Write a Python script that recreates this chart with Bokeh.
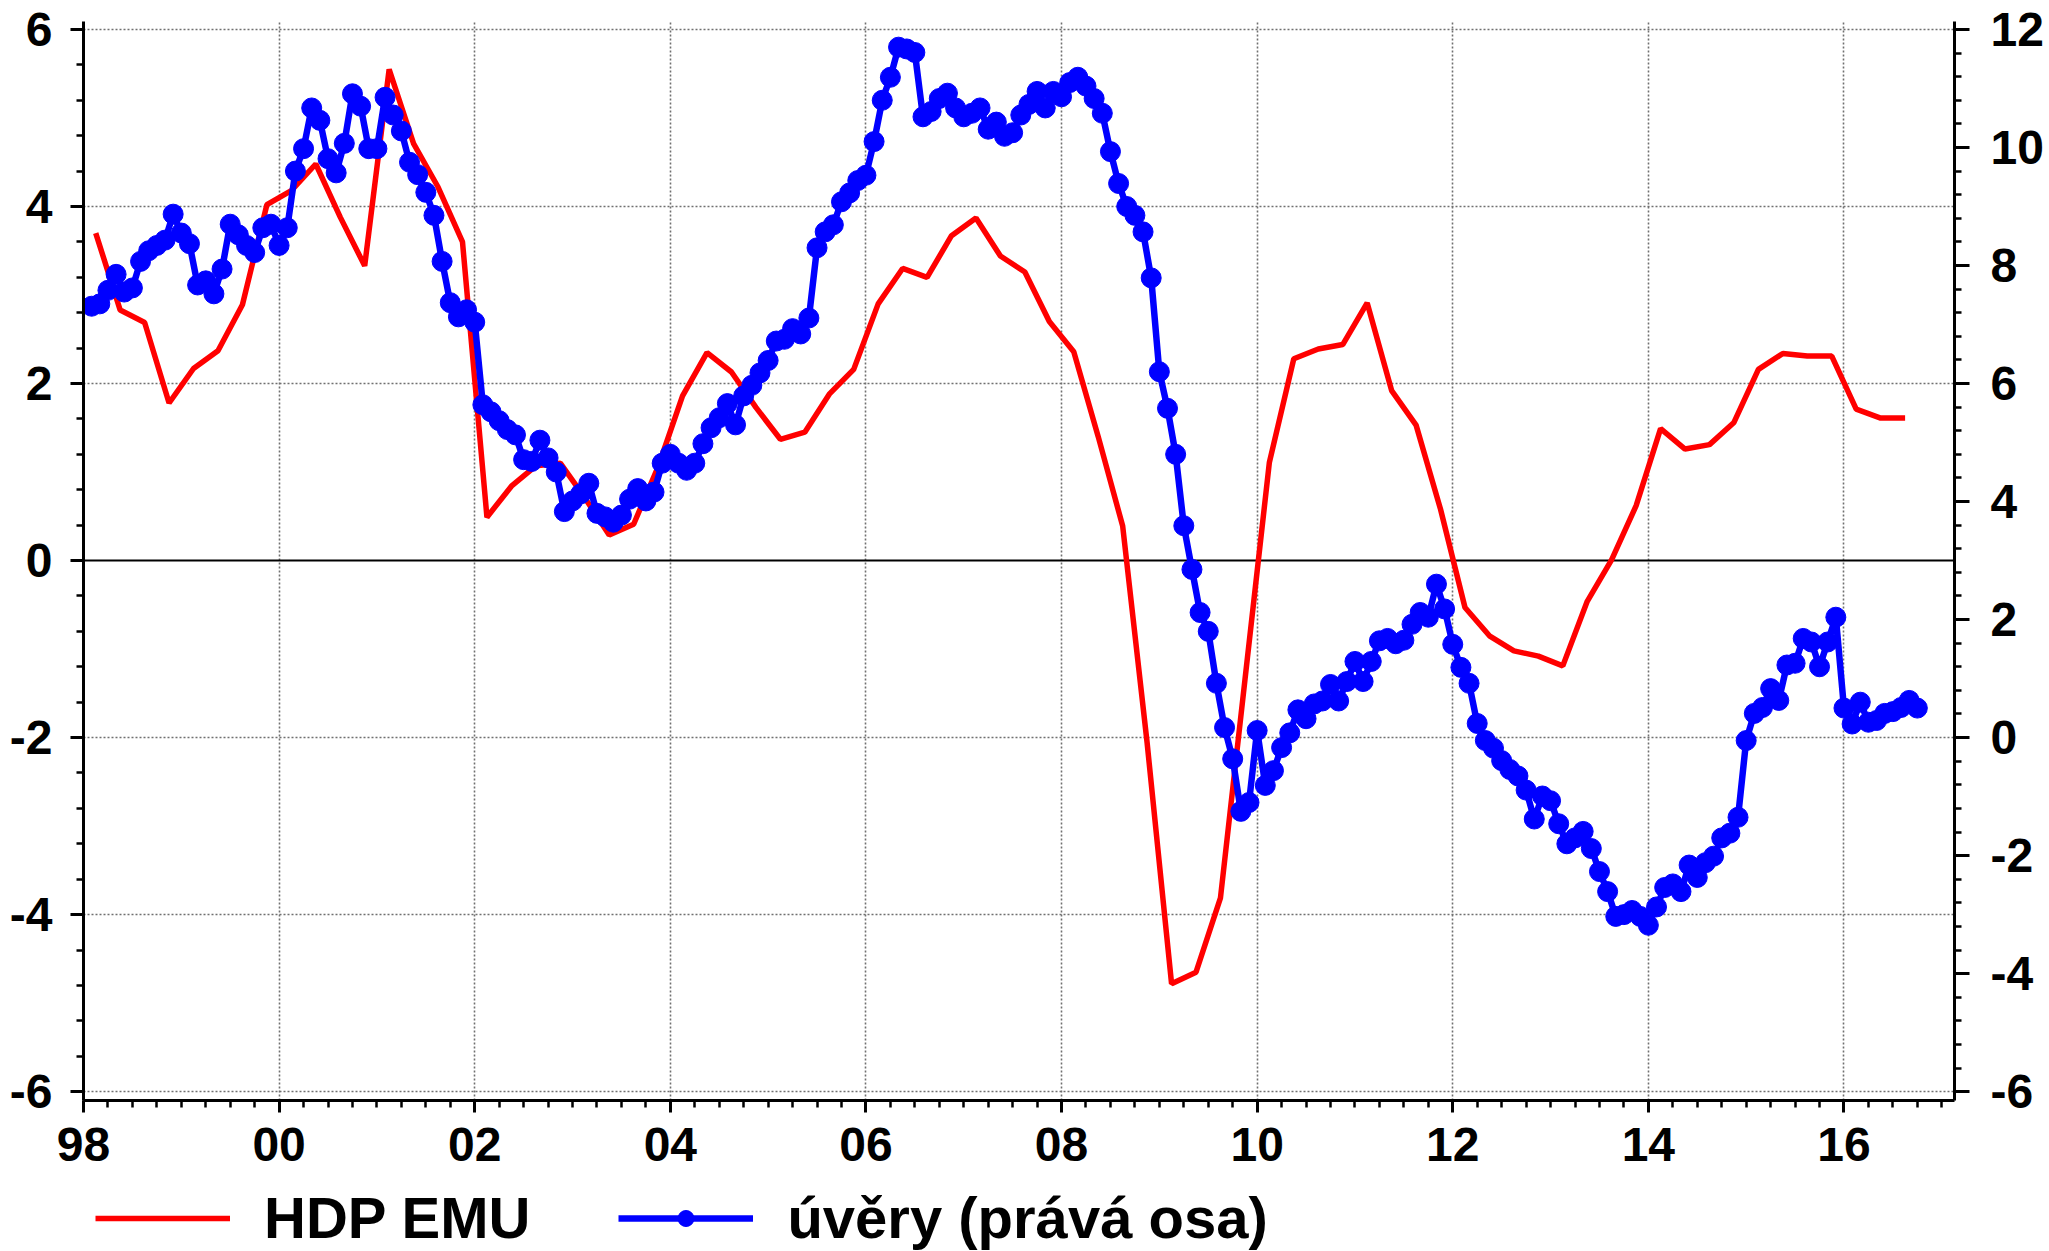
from bokeh.plotting import figure
from bokeh.layouts import column
from bokeh.models import (Range1d, LinearAxis, FixedTicker, Legend, LegendItem, Span)
from bokeh.embed import file_html
from bokeh.resources import INLINE

# ---------------- data ----------------
# HDP EMU, quarterly, 1998Q1 .. 2016Q3 (left axis, %)
hdp_emu = [3.70, 2.83, 2.69, 1.78,
           2.17, 2.37, 2.89, 4.02,
           4.18, 4.48, 3.88, 3.33,
           5.55, 4.71, 4.22, 3.60,
           0.49, 0.84, 1.07, 1.10,
           0.71, 0.29, 0.41, 1.06,
           1.86, 2.35, 2.13, 1.73,
           1.37, 1.45, 1.88, 2.16,
           2.90, 3.30, 3.20, 3.67,
           3.87, 3.44, 3.26, 2.70,
           2.36, 1.40, 0.39, -2.06,
           -4.78, -4.65, -3.81, -1.35,
           1.11, 2.28, 2.39, 2.44,
           2.91, 1.92, 1.53, 0.58,
           -0.53, -0.85, -1.02, -1.08,
           -1.19, -0.46, 0.01, 0.62,
           1.49, 1.26, 1.31, 1.56,
           2.16, 2.34, 2.31, 2.31,
           1.71, 1.61, 1.61]

# uvery, monthly, Jan 1998 .. Sep 2016 (right axis, %)
uvery = [7.31, 7.35, 7.58, 7.85, 7.55, 7.62, 8.07, 8.25, 8.34, 8.43, 8.87, 8.55,      # 1998
         8.37, 7.67, 7.74, 7.52, 7.94, 8.70, 8.52, 8.34, 8.22, 8.64, 8.70, 8.34,      # 1999
         8.64, 9.60, 9.98, 10.67, 10.46, 9.81, 9.57, 10.07, 10.91, 10.70, 9.98, 9.98, # 2000
         10.85, 10.55, 10.28, 9.75, 9.54, 9.24, 8.85, 8.07, 7.37, 7.13, 7.25, 7.04,   # 2001
         5.64, 5.52, 5.37, 5.22, 5.13, 4.71, 4.68, 5.04, 4.74, 4.50, 3.83, 4.01,      # 2002
         4.13, 4.31, 3.80, 3.74, 3.65, 3.77, 4.04, 4.22, 4.01, 4.16, 4.65, 4.80,      # 2003
         4.65, 4.53, 4.65, 4.98, 5.25, 5.42, 5.66, 5.30, 5.79, 5.97, 6.18, 6.39,      # 2004
         6.72, 6.75, 6.93, 6.84, 7.11, 8.30, 8.57, 8.69, 9.08, 9.23, 9.44, 9.53,      # 2005
         10.10, 10.80, 11.19, 11.70, 11.67, 11.61, 10.52, 10.61, 10.83, 10.92, 10.67, 10.52,  # 2006
         10.58, 10.67, 10.31, 10.43, 10.19, 10.25, 10.55, 10.73, 10.95, 10.67, 10.95, 10.86,  # 2007
         11.10, 11.19, 11.04, 10.83, 10.58, 9.93, 9.39, 9.00, 8.85, 8.57, 7.79, 6.20,  # 2008
         5.58, 4.80, 3.59, 2.85, 2.12, 1.80, 0.92, 0.17, -0.36, -1.25, -1.10, 0.12,   # 2009
         -0.81, -0.56, -0.17, 0.08, 0.47, 0.32, 0.57, 0.62, 0.90, 0.62, 0.95, 1.29,   # 2010
         0.95, 1.29, 1.64, 1.68, 1.59, 1.65, 1.92, 2.12, 2.04, 2.60, 2.18, 1.58,      # 2011
         1.19, 0.92, 0.24, -0.05, -0.18, -0.39, -0.54, -0.65, -0.89, -1.38, -0.99, -1.07,  # 2012
         -1.46, -1.80, -1.70, -1.59, -1.88, -2.27, -2.61, -3.03, -3.00, -2.93, -3.03, -3.18,  # 2013
         -2.87, -2.54, -2.48, -2.61, -2.16, -2.37, -2.12, -2.01, -1.70, -1.62, -1.35, -0.05,  # 2014
         0.41, 0.51, 0.83, 0.63, 1.23, 1.26, 1.68, 1.62, 1.20, 1.62, 2.04, 0.50,      # 2015
         0.23, 0.60, 0.26, 0.29, 0.41, 0.44, 0.51, 0.63, 0.50]                        # 2016

x_tick_values = [1998, 2000, 2002, 2004, 2006, 2008, 2010, 2012, 2014, 2016]
x_tick_labels = ["98", "00", "02", "04", "06", "08", "10", "12", "14", "16"]
left_ticks = [-6, -4, -2, 0, 2, 4, 6]
left_tick_labels = ["-6", "-4", "-2", "0", "2", "4", "6"]
right_ticks = [-6, -4, -2, 0, 2, 4, 6, 8, 10, 12]
right_tick_labels = ["-6", "-4", "-2", "0", "2", "4", "6", "8", "10", "12"]

series_names = ["HDP EMU", "úvěry (prává osa)"]

RED = "#ff0000"
BLUE = "#0000ff"
FONT = "Liberation Sans"

# ---------------- positions ----------------
red_x = [1998.125 + 0.25 * i for i in range(len(hdp_emu))]
blue_x = [1998 + (i + 1) / 12 for i in range(len(uvery))]

p = figure(width=2049, height=1185,
           output_backend="svg", toolbar_location=None,
           x_range=Range1d(1998.0, 2017.13), y_range=Range1d(-6.1, 6.09),
           min_border_left=83, min_border_right=95, min_border_top=21,
           min_border_bottom=85, outline_line_color=None,
           background_fill_color="white", border_fill_color="white")
p.extra_y_ranges = {"right": Range1d(-6.15, 12.135)}

x_minor = [1998 + 0.25 * i for i in range(78)]
left_minor = [-6 + 0.4 * i for i in range(31)]
right_minor = [-6 + 0.4 * i for i in range(46)]


def style_axis(ax, tick_out=13):
    ax.axis_line_width = 3
    ax.axis_line_color = "black"
    ax.major_tick_line_width = 3
    ax.major_tick_line_color = "black"
    ax.minor_tick_line_width = 2.5
    ax.minor_tick_line_color = "black"
    ax.major_tick_in = 0
    ax.major_tick_out = tick_out
    ax.minor_tick_in = 0
    ax.minor_tick_out = 7
    ax.major_label_text_font = FONT
    ax.major_label_text_font_style = "bold"
    ax.major_label_text_font_size = "48px"
    ax.major_label_text_color = "black"


xa = p.xaxis[0]
xa.ticker = FixedTicker(ticks=x_tick_values, minor_ticks=x_minor)
xa.major_label_overrides = {v: s for v, s in zip(x_tick_values, x_tick_labels)}
style_axis(xa, 12)
xa.major_label_standoff = 15

ya = p.yaxis[0]
ya.ticker = FixedTicker(ticks=left_ticks, minor_ticks=left_minor)
ya.major_label_overrides = {v: s for v, s in zip(left_ticks, left_tick_labels)}
style_axis(ya)
ya.major_label_standoff = 18

ra = LinearAxis(y_range_name="right")
ra.ticker = FixedTicker(ticks=right_ticks, minor_ticks=right_minor)
ra.major_label_overrides = {v: s for v, s in zip(right_ticks, right_tick_labels)}
style_axis(ra, 15)
ra.major_label_standoff = 21
p.add_layout(ra, "right")

# grid
p.xgrid.ticker = FixedTicker(ticks=x_tick_values)
p.ygrid.ticker = FixedTicker(ticks=[-6, -4, -2, 2, 4, 6])
for g in (p.xgrid[0], p.ygrid[0]):
    g.grid_line_color = "#707070"
    g.grid_line_dash = "2 2"
    g.grid_line_width = 1.6

zero = Span(location=0, dimension="width", line_color="black", line_width=2, level="underlay")
p.add_layout(zero)

p.line(red_x, hdp_emu, line_color=RED, line_width=5.5)
p.line(blue_x, uvery, line_color=BLUE, line_width=6.5, y_range_name="right")
p.scatter(blue_x, uvery, size=20, marker="circle", fill_color=BLUE,
          line_color=BLUE, y_range_name="right")

# ---------------- legend strip ----------------
# (the strip's frame is aligned with the main frame by the column layout)
NAN = float("nan")
lg = figure(width=2049, height=66, output_backend="svg", toolbar_location=None,
            x_range=Range1d(0, 1), y_range=Range1d(0, 1),
            min_border=0, outline_line_color=None,
            x_axis_location=None, y_axis_location=None)
lg.grid.visible = False
r_red = lg.line([NAN], [NAN], line_color=RED, line_width=5.5)
r_bl = lg.line([NAN], [NAN], line_color=BLUE, line_width=6.5)
r_bd = lg.scatter([NAN], [NAN], size=20, marker="circle", fill_color=BLUE, line_color=BLUE)

legend = Legend(items=[LegendItem(label=series_names[0], renderers=[r_red]),
                       LegendItem(label=series_names[1], renderers=[r_bl, r_bd])],
                orientation="horizontal", location=(12, 0),
                label_text_font=FONT, label_text_font_style="bold",
                label_text_font_size="58px", label_text_color="black",
                glyph_width=135, glyph_height=40, label_standoff=34, spacing=88,
                padding=0, margin=0, border_line_color=None,
                background_fill_alpha=0)
lg.add_layout(legend, "center")

open("out.html", "w").write(file_html(column(p, lg, spacing=0), INLINE))
